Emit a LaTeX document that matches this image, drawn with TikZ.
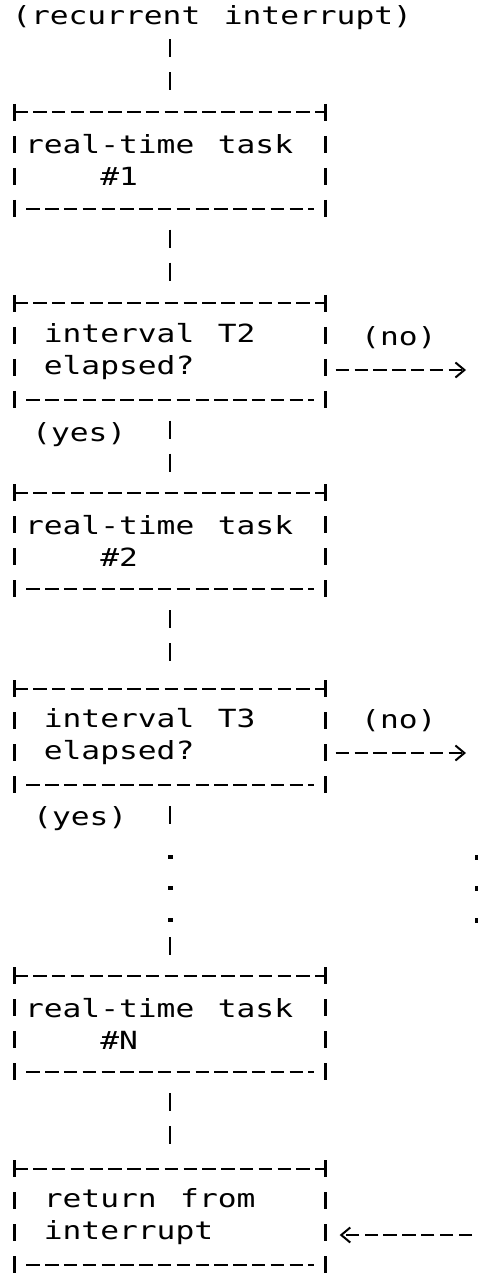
\documentclass[tikz,border=0pt]{standalone}
\usepackage{fontspec}
\newfontfamily\asciifont[FakeStretch=1.25,WordSpace={1.25,0,0}]{DejaVu Sans Mono}
\usetikzlibrary{arrows.meta}
\begin{document}
\begin{tikzpicture}
[x=1pt,y=-1pt,
every node/.append style={font=\asciifont\fontsize{25}{32}\selectfont,inner sep=0pt},
taskbox/.style={minimum width=311pt,minimum height=96pt,text width=290pt,align=left,
  execute at begin node={\spaceskip=0pt\xspaceskip=0pt\relax}},
answer/.style={anchor=base west},
hline/.style={line width=2pt,dash pattern=on 13.5pt off 5.3pt,shorten <=12pt,shorten >=12pt},
vline/.style={line width=2.5pt,dash pattern=on 17pt off 15pt},
link/.style={line width=2.5pt,dash pattern=on 18pt off 15pt,shorten <=21pt,shorten >=21pt},
outline/.style={line width=2pt,dash pattern=on 13.5pt off 5.3pt,
  -{Straight Barb[length=9pt,width=15pt,line width=2pt]}}]
\useasboundingbox (0,0) rectangle (477,1273);
\node[anchor=base west] (start) at (12,25) {(recurrent interrupt)}; % entry
% boxes
\node[taskbox] (task1) at (170,160.5) {real-time task\\\phantom{real}\#1};
\node[taskbox] (t2) at (170,351.5) {\phantom{r}interval T2\\\phantom{r}elapsed?};
\node[taskbox] (task2) at (170,541) {real-time task\\\phantom{real}\#2};
\node[taskbox] (t3) at (170,737) {\phantom{r}interval T3\\\phantom{r}elapsed?};
\node[taskbox] (taskN) at (170,1024) {real-time task\\\phantom{real}\#N};
\node[taskbox] (ret) at (170,1217) {\phantom{r}return from\\\phantom{r}interrupt};
\foreach \b in {task1,t2,task2,t3,taskN,ret} {
  \draw[hline] (\b.north west) -- (\b.north east) (\b.south west) -- (\b.south east);
  \draw[vline] ([yshift=8.5pt]\b.north west) -- ([yshift=-8.5pt]\b.south west)
               ([yshift=8.5pt]\b.north east) -- ([yshift=-8.5pt]\b.south east);
}
% yes / no
\node[answer] (t2no) at (361,345) {(no)};
\node[answer] (t2yes) at (32,441) {(yes)};
\node[answer] (t3no) at (361,728) {(no)};
\node[answer] (t3yes) at (33,825) {(yes)};
% flow
\draw[link,shorten <=9pt] (task1.north |- start.south) -- (task1.north);
\draw[link] (task1) -- (t2);
\draw[link] (t2) -- (task2);
\draw[link] (task2) -- (t3);
\coordinate (dotsTop) at (170,829);
\coordinate (dotsBot) at (170,937);
\draw[link,shorten >=0pt] (t3) -- (dotsTop);
\draw[link,shorten <=0pt] (dotsBot) -- (taskN);
\draw[link] (taskN) -- (ret);
\foreach \y in {857,888,920} {
  \fill (167.5,\y-2) rectangle +(5,4);
  \fill (475,\y-2.5) rectangle +(4,5);
}
\coordinate (t2out) at (466,370);
\coordinate (t3out) at (466,753);
\coordinate (retin) at (472,1235);
\draw[outline,shorten <=10pt] (t2.east |- t2out) -- (t2out);
\draw[outline,shorten <=10pt] (t3.east |- t3out) -- (t3out);
\draw[outline,shorten >=14pt] (retin) -- (ret.east |- retin);
\end{tikzpicture}
\end{document}
